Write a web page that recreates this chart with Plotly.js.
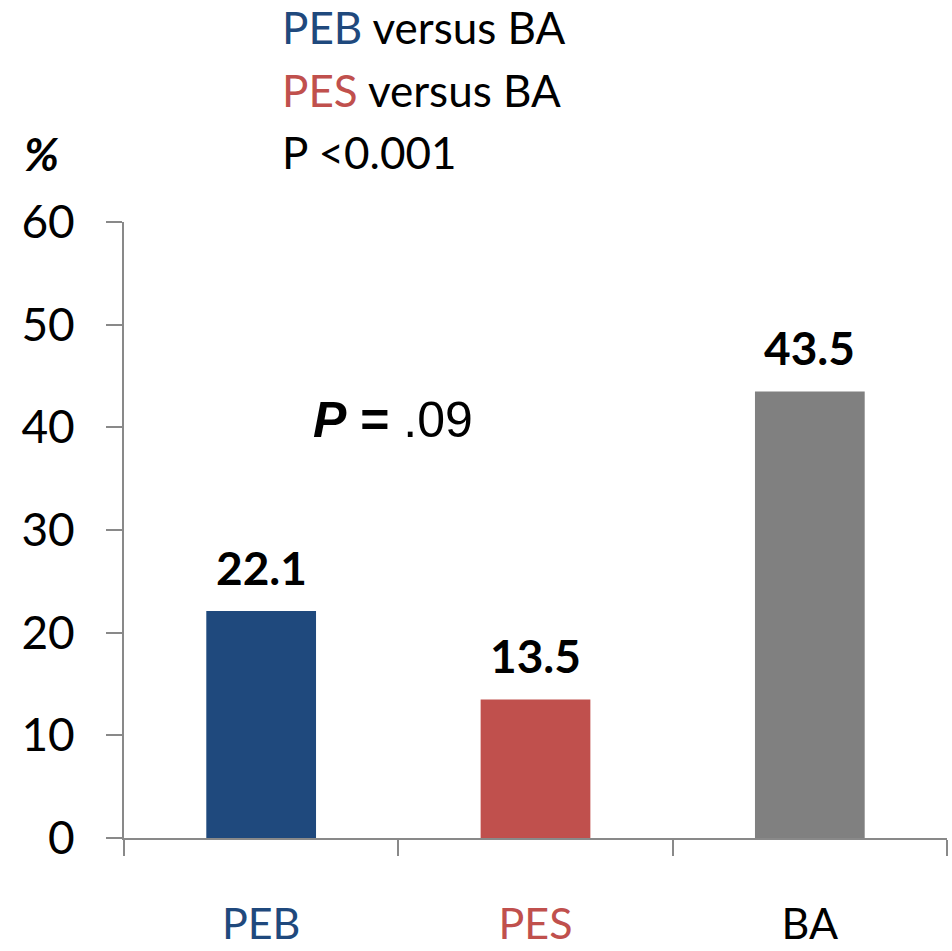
<!DOCTYPE html>
<html>
<head>
<meta charset="utf-8">
<script src="https://cdn.plot.ly/plotly-3.0.1.min.js"></script>
<style>html,body{margin:0;padding:0;background:#fff;}#chart{width:952px;height:951px;}</style>
</head>
<body>
<div id="chart"></div>
<script>
var categories = ["PEB", "PES", "BA"];
var values = [22.1, 13.5, 43.5];
var barColors = ["#1F497D", "#C0504D", "#808080"];
var labelColors = ["#1F497D", "#C0504D", "#000000"];
var yTicks = [0, 10, 20, 30, 40, 50, 60];

var FONT = "Lato, 'Open Sans', sans-serif";

var trace = {
  type: "bar",
  x: categories,
  y: values,
  marker: {color: barColors, line: {width: 0}},
  hoverinfo: "none"
};

var annotations = categories.map(function (c, i) {
  return {
    x: c, y: values[i], xref: "x", yref: "y",
    text: "<b>" + values[i].toFixed(1) + "</b>",
    showarrow: false, yanchor: "bottom", yshift: 14,
    font: {family: FONT, size: 46, color: "#000"}
  };
});

function paperY(py) { return (838 - py) / 616; }
function paperX(px) { return (px - 124) / 823; }

annotations.push(
  {xref: "paper", yref: "paper", x: paperX(280), y: paperY(27), xanchor: "left", yanchor: "middle",
   text: "<span style='color:#1F497D'>PEB</span> versus BA", showarrow: false,
   font: {family: FONT, size: 44, color: "#000"}},
  {xref: "paper", yref: "paper", x: paperX(280), y: paperY(90), xanchor: "left", yanchor: "middle",
   text: "<span style='color:#C0504D'>PES</span> versus BA", showarrow: false,
   font: {family: FONT, size: 44, color: "#000"}},
  {xref: "paper", yref: "paper", x: paperX(280), y: paperY(152), xanchor: "left", yanchor: "middle",
   text: "P &lt;0.001", showarrow: false,
   font: {family: FONT, size: 44, color: "#000"}},
  {xref: "paper", yref: "paper", x: paperX(22), y: paperY(154), xanchor: "left", yanchor: "middle",
   text: "<b><i>%</i></b>", showarrow: false,
   font: {family: FONT, size: 46, color: "#000"}},
  {xref: "paper", yref: "paper", x: paperX(311), y: paperY(420), xanchor: "left", yanchor: "middle",
   text: "<b><i>P</i> =</b> .09", showarrow: false,
   font: {family: "'Liberation Sans', Arial, sans-serif", size: 50, color: "#000"}}
);

var layout = {
  width: 952, height: 951,
  margin: {l: 124, r: 5, t: 222, b: 113},
  paper_bgcolor: "#fff", plot_bgcolor: "#fff",
  showlegend: false,
  bargap: 0.6,
  xaxis: {
    type: "category",
    range: [-0.5, 2.5],
    tickmode: "array",
    tickvals: categories,
    ticktext: categories.map(function (c, i) {
      return "<span style='color:" + labelColors[i] + "'>" + c + "</span>";
    }),
    tickson: "boundaries",
    ticks: "outside", ticklen: 16, tickwidth: 2, tickcolor: "#898989",
    showline: true, linecolor: "#898989", linewidth: 2,
    showgrid: false, zeroline: false,
    ticklabelstandoff: 47,
    tickfont: {family: FONT, size: 43, color: "#000"},
    fixedrange: true
  },
  yaxis: {
    range: [0, 60],
    tickmode: "array",
    tickvals: yTicks,
    ticktext: yTicks.map(String),
    ticks: "outside", ticklen: 16, tickwidth: 2, tickcolor: "#898989",
    showline: true, linecolor: "#898989", linewidth: 2,
    showgrid: false, zeroline: false,
    ticklabelstandoff: 22,
    tickfont: {family: FONT, size: 46, color: "#000"},
    fixedrange: true
  },
  annotations: annotations
};

Plotly.newPlot("chart", [trace], layout, {displayModeBar: false, staticPlot: true});
</script>
</body>
</html>
